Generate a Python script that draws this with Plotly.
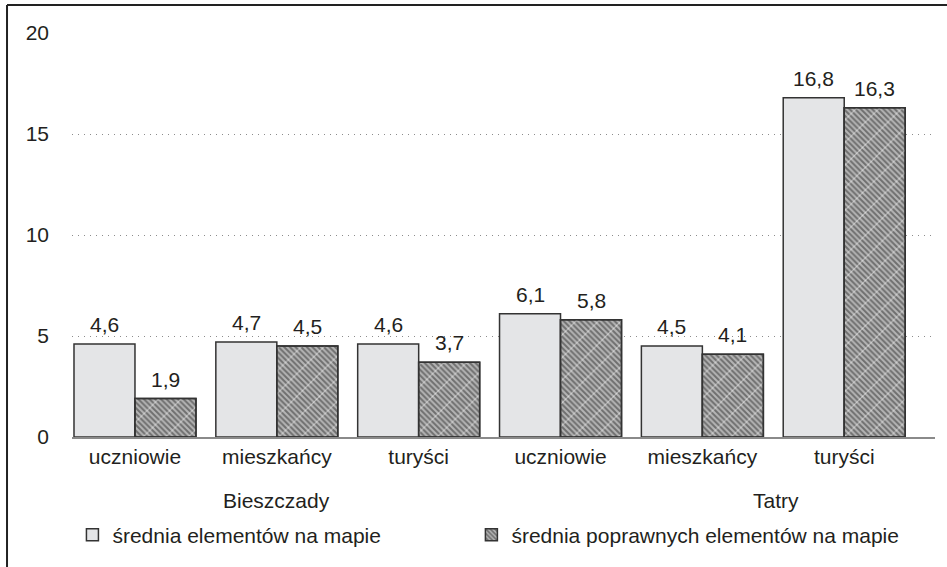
import plotly.graph_objects as go

# Data
categories = ["uczniowie", "mieszkańcy", "turyści", "uczniowie", "mieszkańcy", "turyści"]
regions = ["Bieszczady", "Tatry"]
avg_elements = [4.6, 4.7, 4.6, 6.1, 4.5, 16.8]
avg_correct = [1.9, 4.5, 3.7, 5.8, 4.1, 16.3]
series_names = ["średnia elementów na mapie", "średnia poprawnych elementów na mapie"]
y_ticks = [0, 5, 10, 15, 20]

x_pos = list(range(len(categories)))
BAR_W = 0.43
TEXT = "#231f20"
FONT = "Liberation Sans, Arial, sans-serif"
FS = 21

fig = go.Figure()

# plain grey bars
fig.add_trace(go.Bar(
    x=x_pos, y=avg_elements, name=series_names[0], legend="legend",
    offset=-BAR_W, width=BAR_W,
    marker=dict(color="#e4e5e7", line=dict(color="#333333", width=1.5)),
))

# hatched bars: dense back-diagonal stripes
fig.add_trace(go.Bar(
    x=x_pos, y=avg_correct, name=series_names[1], legend="legend2",
    offset=0, width=BAR_W,
    marker=dict(color="#a8a8a8", line=dict(color="#333333", width=1.5),
                pattern=dict(shape="\\", fgcolor="#2a2a2a", bgcolor="#b4b4b4",
                             size=4, solidity=0.5)),
))

# light forward-diagonal lines crossing the stripes
fig.add_trace(go.Bar(
    x=x_pos, y=avg_correct, showlegend=False, hoverinfo="skip",
    offset=0, width=BAR_W,
    marker=dict(color="rgba(0,0,0,0)", line=dict(color="#333333", width=1.5),
                pattern=dict(shape="/", fgcolor="#ffffff", bgcolor="rgba(0,0,0,0)",
                             size=16, solidity=0.07)),
))

annotations = []
for i, v in enumerate(avg_elements):
    annotations.append(dict(x=i - BAR_W / 2, y=v, xref="x", yref="y",
                            text=f"{v:.1f}".replace(".", ","), showarrow=False,
                            yanchor="bottom", yshift=6,
                            font=dict(size=FS, color=TEXT, family=FONT)))
for i, v in enumerate(avg_correct):
    annotations.append(dict(x=i + BAR_W / 2, y=v, xref="x", yref="y",
                            text=f"{v:.1f}".replace(".", ","), showarrow=False,
                            yanchor="bottom", yshift=6,
                            font=dict(size=FS, color=TEXT, family=FONT)))

# region labels under the category labels
annotations.append(dict(x=1, y=-0.156, xref="x", yref="paper", text=regions[0],
                        showarrow=False, yanchor="middle",
                        font=dict(size=FS, color=TEXT, family=FONT)))
annotations.append(dict(x=4.52, y=-0.156, xref="x", yref="paper", text=regions[1],
                        showarrow=False, yanchor="middle",
                        font=dict(size=FS, color=TEXT, family=FONT)))

# frame: top and left edges
shapes = [
    dict(type="line", xref="paper", yref="paper", x0=-0.0753, x1=1.02,
         y0=1.0693, y1=1.0693, line=dict(color="#222222", width=2)),
    dict(type="line", xref="paper", yref="paper", x0=-0.0753, x1=-0.0753,
         y0=1.0693, y1=-0.33, line=dict(color="#222222", width=2)),
]

legend_style = dict(orientation="h", xanchor="left", yanchor="middle", y=-0.2426,
                    font=dict(size=FS, color=TEXT, family=FONT),
                    bgcolor="rgba(0,0,0,0)")

fig.update_layout(
    width=947, height=567, autosize=False,
    margin=dict(l=72, r=12, t=33, b=130),
    paper_bgcolor="white", plot_bgcolor="white",
    barmode="overlay",
    font=dict(family=FONT, size=FS, color=TEXT),
    annotations=annotations, shapes=shapes,
    legend=dict(x=0.0005, **legend_style),
    legend2=dict(x=0.4628, **legend_style),
)

fig.update_xaxes(
    range=[-0.444, 5.64], tickvals=x_pos, ticktext=categories,
    showline=True, linecolor="#8a8a8a", linewidth=2,
    showgrid=False, zeroline=False, ticks="",
    tickfont=dict(size=FS, color=TEXT, family=FONT),
)
fig.update_yaxes(
    range=[0, 20], tickvals=y_ticks, ticktext=[str(t) for t in y_ticks],
    showgrid=True, gridcolor="#8c8c8c", gridwidth=1, griddash="1px,5px",
    zeroline=False, showline=False, ticks="", ticklabelstandoff=22,
    tickfont=dict(size=FS, color=TEXT, family=FONT),
)

fig.write_html("out.html")
